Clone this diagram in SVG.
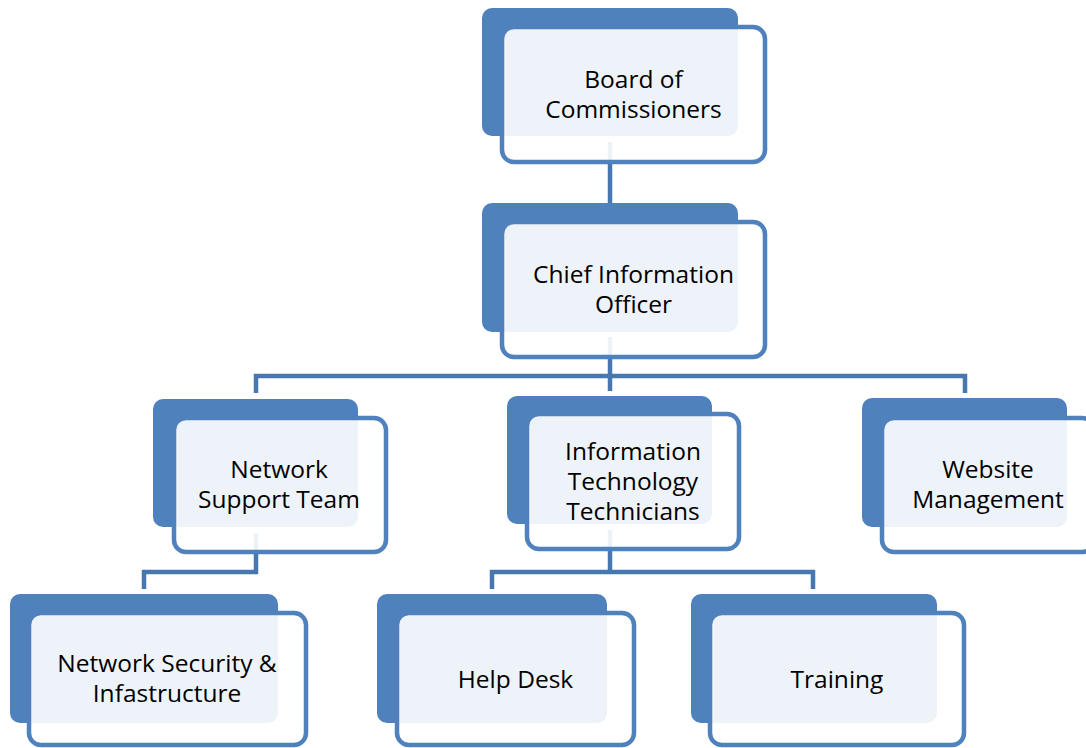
<svg xmlns="http://www.w3.org/2000/svg" width="1086" height="748" viewBox="0 0 1086 748">
<style>
.back{fill:#4F81BD}
.front{fill:#FFFFFF;fill-opacity:0.9;stroke:#4F81BD;stroke-width:4.5}
.conn{fill:none;stroke:#4677B1;stroke-width:4.5;stroke-linejoin:miter}
text{font-family:"Open Sans","Liberation Sans",sans-serif;font-size:24.5px;fill:#000;text-anchor:middle}
</style>
<rect width="1086" height="748" fill="#FFFFFF"/>
<g id="connectors">
<path class="conn" d="M610 142 V204"/>
<path class="conn" d="M610 337 V376 M256 393 V376 H965 V393 M610 376 V391"/>
<path class="conn" d="M256 533 V572 H144 V589"/>
<path class="conn" d="M610 530 V572 M492 589 V572 H813 V589"/>
</g>
<g id="board">
<rect class="back" x="482" y="8" width="256" height="128" rx="10"/>
<rect class="front" x="502" y="27" width="263" height="135" rx="12"/>
<text x="633.5" y="88">Board of</text>
<text x="633.5" y="118">Commissioners</text>
</g>
<g id="cio">
<rect class="back" x="482" y="203" width="256" height="129" rx="10"/>
<rect class="front" x="502" y="222" width="263" height="135" rx="12"/>
<text x="633.5" y="283">Chief Information</text>
<text x="633.5" y="313">Officer</text>
</g>
<g id="nst">
<rect class="back" x="153" y="399" width="205" height="128" rx="10"/>
<rect class="front" x="174" y="418" width="212" height="134" rx="12"/>
<text x="279" y="478">Network</text>
<text x="279" y="508">Support Team</text>
</g>
<g id="itt">
<rect class="back" x="507" y="396" width="205" height="128" rx="10"/>
<rect class="front" x="527" y="414" width="212" height="135" rx="12"/>
<text x="633" y="460">Information</text>
<text x="633" y="490">Technology</text>
<text x="633" y="520">Technicians</text>
</g>
<g id="website">
<rect class="back" x="862" y="398" width="205" height="129" rx="10"/>
<rect class="front" x="882" y="418" width="212" height="134" rx="12"/>
<text x="988" y="478">Website</text>
<text x="988" y="508">Management</text>
</g>
<g id="netsec">
<rect class="back" x="10" y="594" width="268" height="129" rx="10"/>
<rect class="front" x="29" y="613" width="277" height="132" rx="12"/>
<text x="167" y="672">Network Security &amp;</text>
<text x="167" y="702">Infastructure</text>
</g>
<g id="helpdesk">
<rect class="back" x="377" y="594" width="230" height="129" rx="10"/>
<rect class="front" x="397" y="613" width="237" height="132" rx="12"/>
<text x="515.5" y="688">Help Desk</text>
</g>
<g id="training">
<rect class="back" x="691" y="594" width="246" height="129" rx="10"/>
<rect class="front" x="710" y="613" width="254" height="132" rx="12"/>
<text x="837" y="688">Training</text>
</g>
</svg>
